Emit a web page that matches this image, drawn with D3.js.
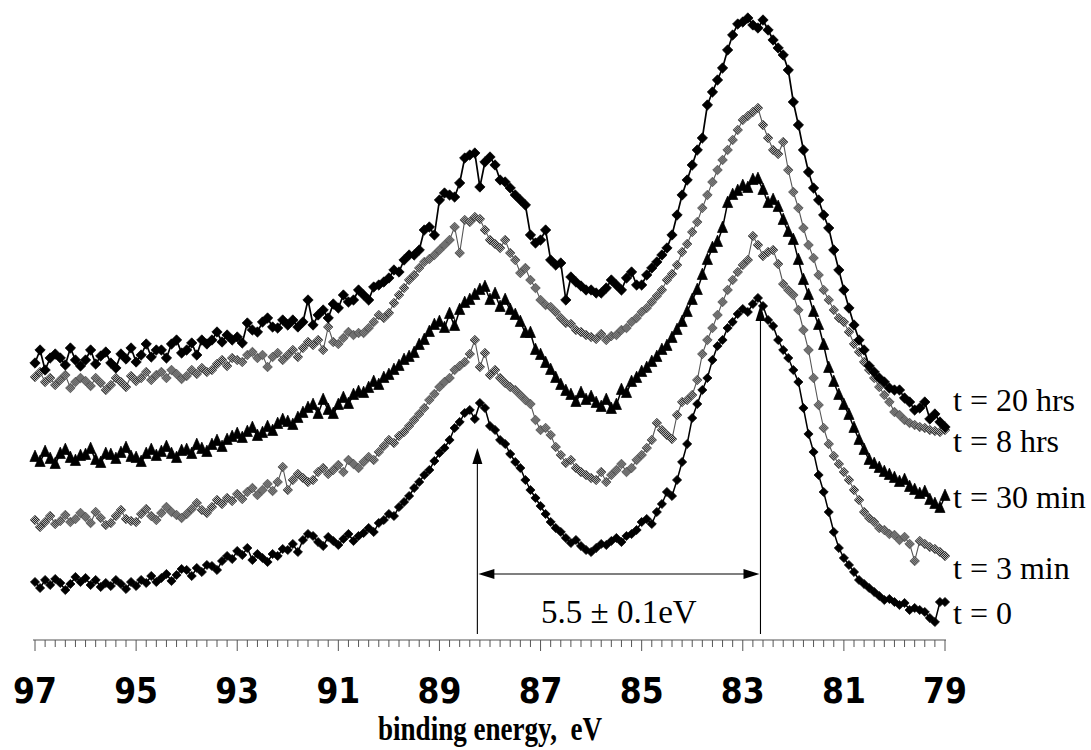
<!DOCTYPE html>
<html><head><meta charset="utf-8">
<script src="https://cdn.jsdelivr.net/npm/d3@7"></script>
<style>
html,body{margin:0;padding:0;background:#fff;}
svg{display:block;}
</style>
</head><body>
<svg id="chart" width="1091" height="750"></svg>
<script>
// ---- DATA (binding energy in eV, intensity in arbitrary units) ----
const energyStart = 97.0;
const energyStep = -0.1;
const xTicksMajor = [97, 95, 93, 91, 89, 87, 85, 83, 81, 79];

const t0 = [
58,52,60,55,61,57,50,56,63,58,
62,55,60,53,57,54,60,56,51,58,
54,60,57,64,58,62,66,59,65,71,
70,64,72,68,75,74,70,79,84,81,
89,85,92,80,86,82,78,86,84,91,
90,96,88,100,106,104,98,94,103,99,
95,101,106,99,104,107,112,108,117,120,
126,124,133,138,144,152,158,165,170,179,
187,192,200,212,218,227,230,221,237,232,
214,210,200,196,186,178,172,160,150,142,
134,126,118,112,108,102,97,100,94,90,
88,92,96,95,99,102,98,104,106,110,
118,121,116,128,136,148,144,160,178,196,
222,236,250,262,280,294,300,312,318,326,
331,328,336,342,334,320,314,300,290,282,
270,258,232,206,188,165,148,128,108,92,
82,75,68,60,56,52,48,44,40,41,
38,35,37,30,32,30,28,22,18,38,
38];

const t3min = [
120,113,118,124,116,119,125,118,121,127,
123,117,128,122,115,117,124,130,121,119,
118,126,131,124,120,127,133,128,125,122,
126,131,137,130,127,133,140,136,142,139,
146,141,148,152,145,150,156,149,158,173,
150,160,166,162,158,160,168,172,166,170,
175,168,180,176,172,178,183,180,188,194,
200,197,204,208,214,220,226,232,240,246,
253,258,262,270,274,278,286,300,273,287,
265,270,262,257,253,250,245,240,236,220,
210,212,205,193,185,177,180,172,168,165,
162,160,168,158,165,170,176,168,172,180,
185,192,200,217,210,205,201,225,238,240,
245,260,286,300,312,325,338,350,360,368,
375,380,404,395,384,388,390,376,356,350,
345,330,310,290,262,235,212,196,184,176,
168,160,150,140,128,122,118,112,110,106,
105,100,103,96,79,99,96,93,91,88,
84];

const t30min = [
183,178,188,181,176,186,190,182,179,184,
185,191,180,177,186,185,181,187,192,183,
182,178,186,190,184,188,193,186,182,189,
190,186,195,191,188,195,199,193,200,203,
206,202,208,212,204,207,213,209,216,220,
218,215,222,227,232,235,226,240,230,226,
235,242,236,245,248,247,252,258,255,262,
265,270,274,280,283,287,295,300,308,315,
318,312,326,314,330,337,340,345,350,353,
340,346,333,340,330,325,318,307,307,290,
285,277,270,262,255,249,245,238,247,240,
243,237,233,240,231,235,250,247,258,262,
268,272,278,283,290,294,302,310,318,328,
340,350,365,380,392,398,412,437,445,449,
454,452,460,461,450,437,440,433,420,408,
400,380,360,345,328,315,295,272,258,245,
235,225,212,200,190,180,176,172,168,165,
162,158,160,153,150,146,148,140,136,132,
144];

const t8hrs = [
263,268,258,262,255,260,265,252,258,262,
259,254,262,257,250,255,262,258,253,264,
259,262,268,260,265,268,262,270,266,261,
264,270,266,272,268,270,276,280,274,282,
280,278,285,288,282,285,273,283,287,280,
285,290,283,292,298,295,300,290,313,298,
296,302,308,305,307,307,312,318,325,322,
327,337,345,352,360,365,372,378,381,385,
390,395,400,413,387,420,418,423,421,410,
400,396,392,400,387,380,367,372,360,352,
340,335,333,328,322,317,316,310,308,305,
303,301,306,300,304,305,310,312,318,322,
328,332,338,344,350,360,366,375,388,396,
408,418,432,445,458,470,480,490,500,510,
520,524,528,532,515,502,490,486,498,470,
448,432,412,395,382,365,350,340,330,322,
318,308,296,288,278,270,262,253,245,238,
228,225,220,217,215,213,212,210,209,208,
210];

const t20hrs = [
277,290,270,282,286,282,275,292,280,274,
280,290,276,284,288,277,272,286,281,292,
278,285,296,283,290,290,282,296,300,287,
290,297,285,300,296,300,308,298,305,300,
303,297,317,310,308,318,322,313,312,320,
315,320,313,318,340,315,325,330,322,336,
332,345,338,340,350,345,340,353,355,358,
362,370,368,380,385,385,390,410,413,405,
440,447,445,443,457,482,485,487,453,478,
483,475,460,458,452,445,440,435,405,397,
400,410,380,375,377,340,363,358,354,350,
350,347,347,352,360,355,350,362,368,355,
355,365,372,378,385,392,405,425,445,460,
475,490,502,535,548,560,572,590,605,616,
618,622,615,612,620,610,600,592,585,570,
538,515,490,468,452,440,425,412,390,370,
350,332,315,300,290,274,268,262,258,252,
250,250,242,238,230,232,238,221,226,218,
213];

const seriesNames = ["t = 0", "t = 3 min", "t = 30 min", "t = 8 hrs", "t = 20 hrs"];
const seriesValues = [t0, t3min, t30min, t8hrs, t20hrs];
const seriesLabelLevels = [27, 72, 143, 199, 240]; // intensity at which each label sits

// annotation: peak positions (eV) and arrow levels (intensity)
const peakLow = 88.25, peakHigh = 82.65;
const annotationText = "5.5 \u00B1 0.1eV";
const xTitle = "binding energy,  eV";

// ---- DRAWING ----
const svg = d3.select("#chart");
const x = d3.scaleLinear().domain([97, 79]).range([35, 945]);
const y = d3.scaleLinear().domain([0, 640]).range([640, 0]);

const defs = svg.append("defs");
const pat = defs.append("pattern").attr("id","halftone").attr("width",2).attr("height",2)
  .attr("patternUnits","userSpaceOnUse");
pat.append("rect").attr("width",2).attr("height",2).attr("fill","#bdbdbd");
pat.append("rect").attr("x",0).attr("y",0).attr("width",1).attr("height",1).attr("fill","#222");
pat.append("rect").attr("x",1).attr("y",1).attr("width",1).attr("height",1).attr("fill","#222");

const styles = [
  {line:"#000", lw:1.5, marker:"diamond", r:4.6, fill:"#000", stroke:"#000"},
  {line:"#555", lw:1.1, marker:"diamond", r:4.8, fill:"url(#halftone)", stroke:"#444"},
  {line:"#000", lw:1.5, marker:"triangle", r:6, fill:"#000", stroke:"#000"},
  {line:"#555", lw:1.1, marker:"diamond", r:4.8, fill:"url(#halftone)", stroke:"#444"},
  {line:"#000", lw:1.7, marker:"diamond", r:5.2, fill:"#000", stroke:"#000"}
];

function energyAt(i){ return energyStart + energyStep * i; }

const line = d3.line().x((d,i)=>x(energyAt(i))).y(d=>y(d));

seriesValues.forEach((vals, k) => {
  const st = styles[k];
  const g = svg.append("g");
  g.append("path").attr("d", line(vals)).attr("fill","none")
    .attr("stroke", st.line).attr("stroke-width", st.lw);
  const r = st.r;
  const shape = st.marker === "diamond"
    ? `M0,${-r}L${r},0L0,${r}L${-r},0Z`
    : `M0,${-r*1.15}L${r*0.85},${r*0.75}L${-r*0.85},${r*0.75}Z`;
  g.selectAll("path.m").data(vals).join("path").attr("class","m")
    .attr("d", shape)
    .attr("transform", (d,i)=>`translate(${x(energyAt(i))},${y(d)})`)
    .attr("fill", st.fill).attr("stroke", st.stroke).attr("stroke-width", 0.7);
});

// series labels
seriesNames.forEach((name, k) => {
  svg.append("text").attr("x", 953).attr("y", y(seriesLabelLevels[k]))
    .attr("dy","0.35em")
    .attr("font-family","'Liberation Serif','Times New Roman',serif")
    .attr("font-size", 32).attr("fill","#000").text(name);
});

// x axis
const axisY = y(0);
svg.append("line").attr("x1", x(97)-2).attr("x2", x(79)+1).attr("y1", axisY).attr("y2", axisY)
  .attr("stroke","#555").attr("stroke-width",1.2);
const minorTicks = d3.range(0, 91).map(i => 97 - 0.2 * i);
svg.selectAll("line.tick").data(minorTicks).join("line").attr("class","tick")
  .attr("x1", d=>x(d)).attr("x2", d=>x(d))
  .attr("y1", axisY)
  .attr("y2", (d,i)=> i % 10 === 0 ? axisY + 11 : axisY + 7)
  .attr("stroke","#555").attr("stroke-width",1);
svg.selectAll("text.tl").data(xTicksMajor).join("text").attr("class","tl")
  .attr("x", d=>x(d)).attr("y", 703).attr("text-anchor","middle")
  .attr("font-family","'Liberation Sans Narrow','Arial Narrow','DejaVu Sans Condensed',sans-serif")
  .attr("font-weight","bold").attr("font-size", 35).attr("fill","#000")
  .text(d=>d);
svg.append("text").attr("x", 378).attr("y", 740)
  .style("white-space","pre")
  .attr("textLength", 224).attr("lengthAdjust","spacingAndGlyphs")
  .attr("font-family","'Liberation Serif','Times New Roman',serif")
  .attr("font-weight","bold").attr("font-size", 33).attr("fill","#000")
  .text(xTitle);

// annotation arrows
const ann = svg.append("g").attr("stroke","#000").attr("stroke-width",1.1);
const xa = x(peakLow), xb = x(peakHigh);
const yBottom = y(6), yArrow = y(66), yTipA = y(192), yTipB = y(335);
ann.append("line").attr("x1",xa).attr("x2",xa).attr("y1",yBottom).attr("y2",yTipA+14);
ann.append("line").attr("x1",xb).attr("x2",xb).attr("y1",yBottom).attr("y2",yTipB+14);
ann.append("line").attr("x1",xa+14).attr("x2",xb-14).attr("y1",yArrow).attr("y2",yArrow);
const heads = svg.append("g").attr("fill","#000");
heads.append("path").attr("d",`M${xa},${yTipA}L${xa+5},${yTipA+16}L${xa-5},${yTipA+16}Z`);
heads.append("path").attr("d",`M${xb},${yTipB}L${xb+5},${yTipB+16}L${xb-5},${yTipB+16}Z`);
heads.append("path").attr("d",`M${xa+1},${yArrow}L${xa+17},${yArrow-5}L${xa+17},${yArrow+5}Z`);
heads.append("path").attr("d",`M${xb-1},${yArrow}L${xb-17},${yArrow-5}L${xb-17},${yArrow+5}Z`);
svg.append("text").attr("x", (xa+xb)/2).attr("y", 623).attr("text-anchor","middle")
  .attr("font-family","'Liberation Serif','Times New Roman',serif")
  .attr("font-size", 33).attr("fill","#000").text(annotationText);
</script>
</body></html>
